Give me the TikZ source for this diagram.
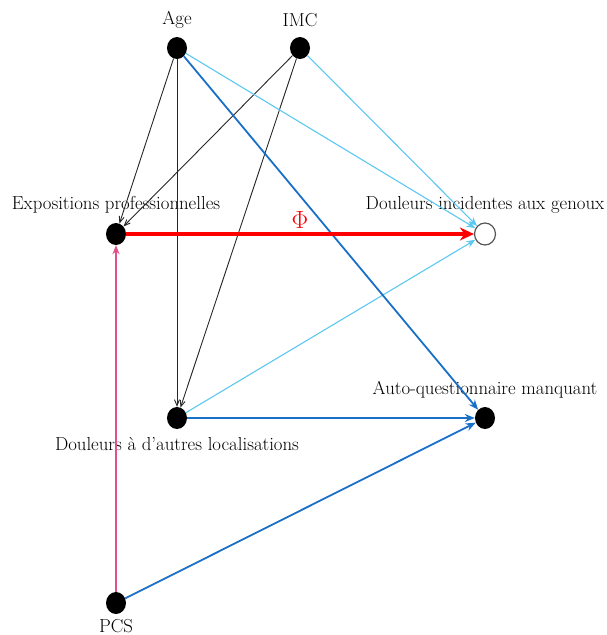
\documentclass[tikz,border=0pt]{standalone}
\usetikzlibrary{arrows.meta,shapes.geometric}
\definecolor{cRed}{HTML}{FF0000}
\definecolor{cLight}{HTML}{5CC8F2}
\definecolor{cBlue}{HTML}{1A6FC9}
\definecolor{cPink}{HTML}{E0508A}
\definecolor{cGray}{HTML}{555555}
\begin{document}
\begin{tikzpicture}[x=1pt,y=-1pt,
  every node/.style={font=\fontsize{18.8}{22}\selectfont},
  dot/.style={ellipse,fill=black,minimum width=20pt,minimum height=22pt,inner sep=0pt},
  odot/.style={ellipse,draw=cGray,line width=1.2pt,fill=white,minimum width=21pt,minimum height=22pt,inner sep=0pt},
  lab/.style={inner sep=0pt},
  blk/.style={draw=black!85,line width=0.9pt,-{Straight Barb[length=6pt,width=5pt]}},
  lblue/.style={draw=cLight,line width=1.1pt,-{Stealth[length=9pt,width=7pt]}},
  dblue/.style={draw=cBlue,line width=1.8pt,-{Stealth[length=10pt,width=8pt]}},
  redarr/.style={draw=cRed,line width=3.5pt,-{Stealth[length=14pt,width=13pt]}},
  pinkarr/.style={draw=cPink,line width=1.6pt,-{Stealth[length=9pt,width=7pt]}}]
\useasboundingbox (0,0) rectangle (606,635);
\node[dot] (age) at (177,48) {};
\node[dot] (imc) at (300,48) {};
\node[dot] (expo) at (116,234) {};
\node[odot] (genou) at (485,234) {};
\node[dot] (autres) at (177,418) {};
\node[dot] (auto) at (485,418) {};
\node[dot] (pcs) at (116,603) {};
\node[lab] (lage) at (177,20) {Age};
\node[lab] (limc) at (300,20) {IMC};
\node[lab] (lexpo) at (116,205) {Expositions professionnelles};
\node[lab] (lgenou) at (485,205) {Douleurs incidentes aux genoux};
\node[lab] (lautres) at (177,444) {Douleurs à d’autres localisations};
\node[lab] (lauto) at (485,390) {Auto-questionnaire manquant};
\node[lab] (lpcs) at (116,626) {PCS};
\draw[blk] (age) -- (expo);
\draw[blk] (age) -- (autres);
\draw[blk] (imc) -- (expo);
\draw[blk] (imc) -- (autres);
\draw[lblue] (age) -- (genou);
\draw[lblue] (imc) -- (genou);
\draw[lblue] (autres) -- (genou);
\draw[dblue] (age) -- (auto);
\draw[dblue] (autres) -- (auto);
\draw[dblue] (pcs) -- (auto);
\draw[pinkarr] (pcs) -- (expo);
\draw[redarr] (expo) -- node[above=4pt,text=cRed,inner sep=0pt,font=\fontsize{23}{26}\selectfont] (phi) {$\Phi$} (genou);
\end{tikzpicture}
\end{document}
